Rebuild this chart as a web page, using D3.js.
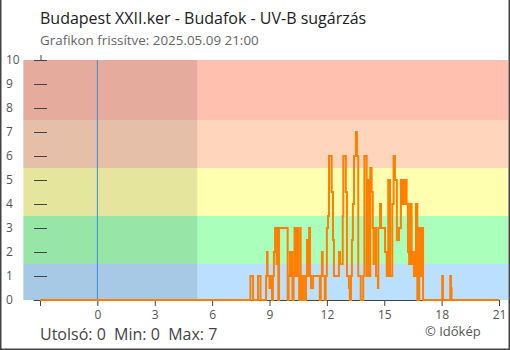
<!DOCTYPE html>
<html><head><meta charset="utf-8">
<script src="https://cdn.jsdelivr.net/npm/d3@7"></script>
<style>
html,body{margin:0;padding:0;background:#fff;}
svg{display:block;font-family:"Open Sans",sans-serif;}
</style></head>
<body><svg id="c" width="510" height="350"></svg>
<script>
// ---- data ----
const title = "Budapest XXII.ker - Budafok - UV-B sugárzás";
const subtitle = "Grafikon frissítve: 2025.05.09 21:00";
const xTicks = [-3, 0, 3, 6, 9, 12, 15, 18, 21];
const yTicks = [0, 1, 2, 3, 4, 5, 6, 7, 8, 9, 10];
const bandLimits = [0, 1.5, 3.5, 5.5, 7.5, 10];
const bandColors = ["#bbe0ff", "#aaffbb", "#ffffb0", "#ffd5bb", "#ffc0b0"];
const nightStart = -3.87, nightEnd = 5.22;
// change points: hour of day, UV-B value
const hours = [-3, 8.0, 8.14, 8.4, 8.53, 8.82, 8.87, 8.9, 9.0, 9.08, 9.13, 9.18, 9.23, 9.29, 9.37, 9.42, 9.46, 9.5, 9.95,
  10.0, 10.07, 10.1, 10.18, 10.2, 10.26, 10.31, 10.34, 10.39, 10.42, 10.47, 10.49, 10.55, 10.6, 10.63, 10.7, 10.75, 10.86, 10.91, 10.96,
  11.01, 11.07, 11.12, 11.17, 11.28, 11.63, 11.68, 11.74, 11.78, 11.89, 11.94, 12.0, 12.06, 12.11, 12.25, 12.32, 12.37, 12.63, 12.69,
  12.83, 12.86, 12.99, 13.05, 13.15, 13.2, 13.26, 13.31, 13.36, 13.42, 13.52, 13.57, 13.64, 13.77, 13.9, 13.96, 14.08, 14.15, 14.2,
  14.27, 14.34, 14.4, 14.44, 14.46, 14.57, 14.67, 14.69, 14.78, 14.83, 15.04, 15.13, 15.21, 15.3, 15.42, 15.49, 15.56, 15.66, 15.77,
  15.87, 15.92, 15.97, 16.03, 16.08, 16.17, 16.24, 16.3, 16.35, 16.43, 16.5, 16.55, 16.63, 16.66, 16.73, 16.83, 16.92, 16.97, 17.03,
  18.03, 18.07, 18.45, 18.49, 18.52, 21];
const values = [0, 1, 0, 1, 0, 1, 2, 1, 0.5, 1, 0, 1, 2, 3, 1.5, 3, 0, 3, 0,
  1, 2, 1, 2, 0, 1, 3, 1, 3, 2, 3, 1, 0, 3, 1, 0, 1, 0, 1, 2.5,
  1, 3, 1, 0.5, 1, 0, 1, 2, 1, 0, 1, 3, 3.5, 6, 4.5, 2.5, 1, 2, 1.5,
  3.5, 6, 4.5, 1, 0.5, 0, 1, 2.5, 4, 6, 7, 6, 1, 0, 1, 6, 1, 5, 1,
  5.5, 4.5, 3, 1.5, 3, 1, 0.5, 3, 4, 3, 2, 1, 5, 1, 4, 6, 5, 2.5, 3,
  5, 4, 5, 4, 5, 4, 2, 1.5, 4, 1.5, 2, 1, 2, 4, 0, 3, 1, 3, 0,
  1, 0, 1, 0.5, 0, 0];
const summary = "Utolsó: 0  Min: 0  Max: 7";
const credit = "© Időkép";

// ---- chart ----
const svg = d3.select("#c");
const x = d3.scaleLinear().domain([-3, 21]).range([40, 499]);
const y = d3.scaleLinear().domain([0, 10]).range([300, 60]);
const xLeft = -3.87, xRight = 21.48;

// bands
svg.append("g").selectAll("rect").data(bandColors).join("rect")
  .attr("x", x(xLeft)).attr("width", x(xRight) - x(xLeft))
  .attr("y", (d, i) => y(bandLimits[i + 1]))
  .attr("height", (d, i) => y(bandLimits[i]) - y(bandLimits[i + 1]))
  .attr("fill", d => d);
// night shade
svg.append("rect").attr("x", x(nightStart)).attr("width", x(nightEnd) - x(nightStart))
  .attr("y", y(10)).attr("height", y(0) - y(10)).attr("fill", "#000").attr("opacity", 0.1);

// y ticks
const yAxis = svg.append("g").attr("transform", "translate(34,0)")
  .call(d3.axisRight(y).tickValues(yTicks).tickSize(13).tickFormat(""));
yAxis.select(".domain").remove();
yAxis.selectAll("line").attr("stroke", "#444");
svg.append("line").attr("x1", 41).attr("x2", 41).attr("y1", y(10) - 5).attr("y2", y(10)).attr("stroke", "#444");
svg.append("g").selectAll("text").data(yTicks).join("text")
  .attr("x", 6).attr("y", d => y(d)).attr("dy", "0.35em")
  .attr("font-size", 12).attr("fill", "#555").text(d => d);

// x axis
const xAxis = svg.append("g").attr("transform", `translate(0,${y(0)})`)
  .call(d3.axisBottom(x).tickValues(xTicks).tickSize(6).tickPadding(4).tickFormat(d => d < 0 ? "" : d));
xAxis.select(".domain").remove();
xAxis.selectAll("line").attr("stroke", "#444");
xAxis.selectAll("text").attr("font-size", 12).attr("fill", "#555").attr("font-family", "Open Sans");
svg.append("line").attr("x1", x(-3.33)).attr("x2", x(21.05)).attr("y1", y(0) + 0.5).attr("y2", y(0) + 0.5)
  .attr("stroke", "#444");

// midnight line
svg.append("line").attr("x1", x(0)).attr("x2", x(0)).attr("y1", y(10)).attr("y2", y(0) + 5)
  .attr("stroke", "#3a8fd8").attr("stroke-width", 1);

// data line
const pts = hours.map((h, i) => [h, values[i]]);
svg.append("path").datum(pts)
  .attr("d", d3.line().x(d => x(d[0])).y(d => y(d[1])).curve(d3.curveStepAfter))
  .attr("fill", "none").attr("stroke", "#ff8000").attr("stroke-width", 2);

// titles
svg.append("text").attr("x", 40).attr("y", 24).attr("font-size", 16).attr("fill", "#222").text(title);
svg.append("text").attr("x", 40).attr("y", 45).attr("font-size", 13.4).attr("fill", "#666").text(subtitle);
svg.append("text").attr("x", 40).attr("y", 340).attr("font-size", 16).attr("fill", "#444")
  .attr("xml:space", "preserve").style("white-space", "pre").text(summary);
svg.append("text").attr("x", 425).attr("y", 336).attr("font-size", 13).attr("fill", "#555").text(credit);

// frame
svg.append("path").attr("d", "M0.75,0V349.25H509.25V0").attr("fill", "none").attr("stroke", "#444").attr("stroke-width", 1.5);
</script></body></html>
